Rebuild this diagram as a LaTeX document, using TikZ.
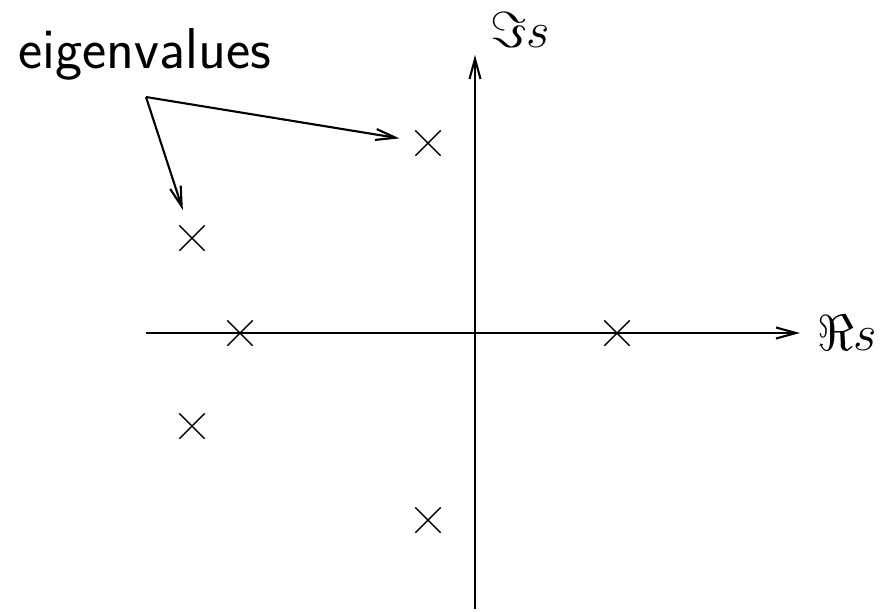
\documentclass[tikz,border=0pt]{standalone}
\usepackage{amsmath}
\usepackage{tikz}
\usetikzlibrary{shapes.misc,arrows.meta,positioning}

\begin{document}
\begin{tikzpicture}[eig/.style={cross out, draw, minimum size=2.4mm, inner sep=0pt}, arr/.style={-{Straight Barb[length=2mm,width=1.1mm]}, semithick}]
\useasboundingbox (-4.75,-2.78) rectangle (4.11,3.33);
% axes
\coordinate (xmin) at (-3.29,0);
\coordinate (xmax) at (3.25,0);
\coordinate (ymin) at (0,-2.76);
\coordinate (ymax) at (0,2.78);
\draw[arr] (xmin) -- (xmax);
\draw[arr] (ymin) -- (ymax);
\node (real) at (3.72,0) {\Large $\Re s$};
\node (imag) at (0.45,3.03) {\Large $\Im s$};
% eigenvalues
\node[eig] (e1) at (-0.47,1.90) {};
\node[eig] (e2) at (-2.83,0.95) {};
\node[eig] (e3) at (-2.35,0) {};
\node[eig] (e4) at (1.42,0) {};
\node[eig] (e5) at (-2.83,-0.93) {};
\node[eig] (e6) at (-0.47,-1.87) {};
\node[anchor=base west, inner sep=0pt, font=\fontsize{16.4}{20}\selectfont\sffamily] (lab) at (-4.57,2.65) {eigenvalues};
\coordinate (src) at (-3.29,2.36);
\draw[arr, shorten >=1.6mm] (src) -- (e1);
\draw[arr, shorten >=1.6mm] (src) -- (e2);
\end{tikzpicture}
\end{document}
